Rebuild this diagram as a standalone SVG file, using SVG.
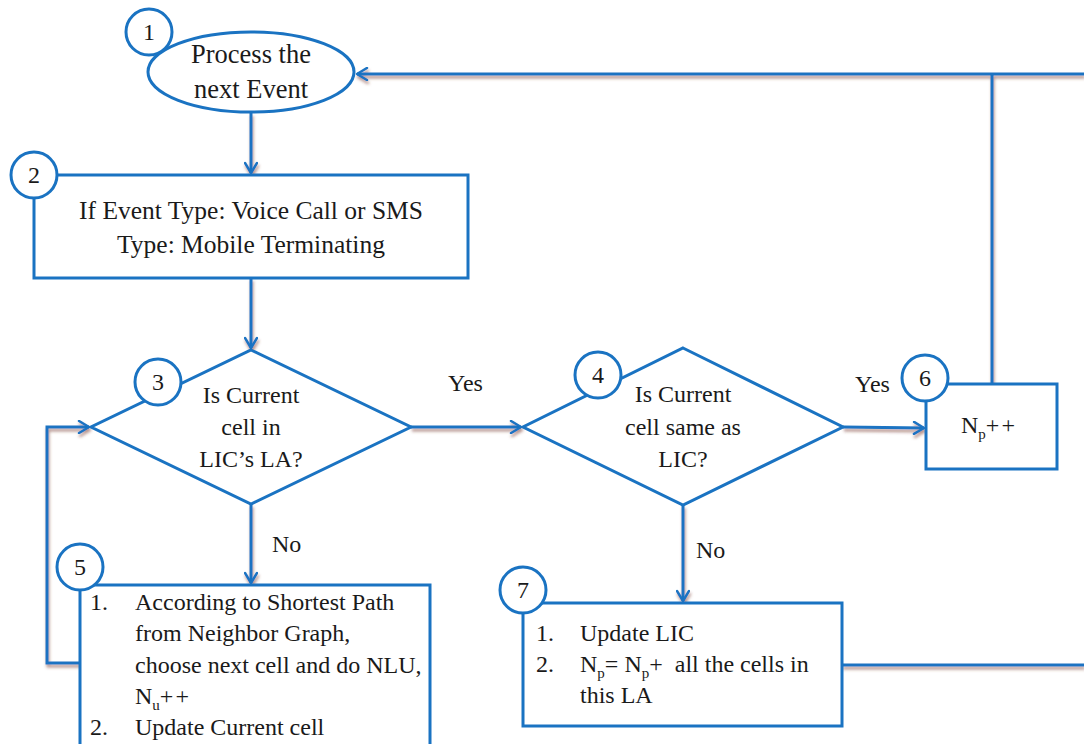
<svg xmlns="http://www.w3.org/2000/svg" width="1084" height="744" viewBox="0 0 1084 744">
  <style>
    .shape { fill: #ffffff; stroke: #1a73c2; stroke-width: 3; }
    .badge { fill: #ffffff; stroke: #1a73c2; stroke-width: 3; }
    .wire { fill: none; stroke: #1a73c2; stroke-width: 3; }
    text { font-family: "Liberation Serif", "DejaVu Serif", serif; font-size: 24px; fill: #1a1a1a; white-space: pre; }
    .num { font-size: 24px; text-anchor: middle; }
    .mid { text-anchor: middle; }
    .big { font-size: 26.5px; }
    .wide { font-size: 25.5px; }
    .sub { font-size: 15px; }
    .inc { letter-spacing: 2px; }
  </style>
  <defs>
    <marker id="arrow" viewBox="0 0 14 14" refX="12" refY="7" markerWidth="14" markerHeight="14" markerUnits="userSpaceOnUse" orient="auto">
      <path d="M2,1 L12,7 L2,13" fill="none" stroke="#1a73c2" stroke-width="2.5" stroke-linecap="round" stroke-linejoin="round"/>
    </marker>
    <filter id="shadow" x="-5%" y="-20%" width="110%" height="140%">
      <feDropShadow dx="1" dy="3" stdDeviation="1.5" flood-color="#7a3a30" flood-opacity="0.55"/>
    </filter>
  </defs>

  <!-- connectors -->
  <g id="connectors" filter="url(#shadow)">
    <path class="wire" d="M251,113 L251,173" marker-end="url(#arrow)"/>
    <path class="wire" d="M251,278 L251,348" marker-end="url(#arrow)"/>
    <path class="wire" d="M411,427 L521,427" marker-end="url(#arrow)"/>
    <path class="wire" d="M843,427 L924,428" marker-end="url(#arrow)"/>
    <path class="wire" d="M251,504 L251,583" marker-end="url(#arrow)"/>
    <path class="wire" d="M683,505 L683,601" marker-end="url(#arrow)"/>
    <path class="wire" d="M80,663 L47,663 L47,427 L89,427" marker-end="url(#arrow)"/>
    <path class="wire" d="M992,384 L992,74"/>
    <path class="wire" d="M1084,74 L357,74" marker-end="url(#arrow)"/>
    <path class="wire" d="M842,665 L1084,665"/>
  </g>

  <!-- 1: start event -->
  <g id="node1">
    <ellipse class="shape" cx="251" cy="72" rx="103" ry="40"/>
    <circle class="badge" cx="149" cy="32" r="23"/>
    <text class="num" x="149" y="40">1</text>
    <text class="mid big" x="251" y="63">Process the</text>
    <text class="mid big" x="251" y="98">next Event</text>
  </g>

  <!-- 2: event type filter -->
  <g id="node2">
    <rect class="shape" x="34" y="175" width="434" height="103"/>
    <circle class="badge" cx="34" cy="175" r="23"/>
    <text class="num" x="34" y="183">2</text>
    <text class="mid wide" x="251" y="219">If Event Type: Voice Call or SMS</text>
    <text class="mid wide" x="251" y="253">Type: Mobile Terminating</text>
  </g>

  <!-- 3: LA check -->
  <g id="node3">
    <polygon class="shape" points="251,350 411,427 251,504 91,427"/>
    <circle class="badge" cx="158" cy="382" r="23"/>
    <text class="num" x="158" y="390">3</text>
    <text class="mid" x="251" y="403">Is Current</text>
    <text class="mid" x="251" y="435">cell in</text>
    <text class="mid" x="251" y="467">LIC’s LA?</text>
  </g>

  <!-- 4: cell check -->
  <g id="node4">
    <polygon class="shape" points="683,348 843,427 683,505 523,427"/>
    <circle class="badge" cx="598" cy="375" r="23"/>
    <text class="num" x="598" y="383">4</text>
    <text class="mid" x="683" y="402">Is Current</text>
    <text class="mid" x="683" y="435">cell same as</text>
    <text class="mid" x="683" y="467">LIC?</text>
  </g>

  <!-- 5: neighbour routing -->
  <g id="node5">
    <rect class="shape" x="80" y="585" width="350" height="175"/>
    <circle class="badge" cx="80" cy="567" r="23"/>
    <text class="num" x="80" y="575">5</text>
    <text x="90" y="610">1.</text>
    <text x="135" y="610">According to Shortest Path</text>
    <text x="135" y="641">from Neighbor Graph,</text>
    <text x="135" y="673">choose next cell and do NLU,</text>
    <text x="135" y="704">N<tspan class="sub" dy="6">u</tspan><tspan class="inc" dy="-6">++</tspan></text>
    <text x="90" y="735">2.</text>
    <text x="135" y="735">Update Current cell</text>
  </g>

  <!-- 6: paging counter -->
  <g id="node6">
    <rect class="shape" x="926" y="384" width="131" height="85"/>
    <circle class="badge" cx="925" cy="378" r="23"/>
    <text class="num" x="925" y="386">6</text>
    <text x="961" y="433">N<tspan class="sub" dy="6">p</tspan><tspan class="inc" dy="-6">++</tspan></text>
  </g>

  <!-- 7: LIC update -->
  <g id="node7">
    <rect class="shape" x="523" y="603" width="319" height="123"/>
    <circle class="badge" cx="523" cy="590" r="23"/>
    <text class="num" x="523" y="598">7</text>
    <text x="536" y="641">1.</text>
    <text x="580" y="641">Update LIC</text>
    <text x="536" y="672">2.</text>
    <text x="580" y="672">N<tspan class="sub" dy="6">p</tspan><tspan dy="-6">= N</tspan><tspan class="sub" dy="6">p</tspan><tspan dy="-6">+  all the cells in</tspan></text>
    <text x="580" y="703">this LA</text>
  </g>

  <!-- branch labels -->
  <g id="labels">
    <text x="448" y="391">Yes</text>
    <text x="855" y="392">Yes</text>
    <text x="272" y="552">No</text>
    <text x="696" y="558">No</text>
  </g>
</svg>
